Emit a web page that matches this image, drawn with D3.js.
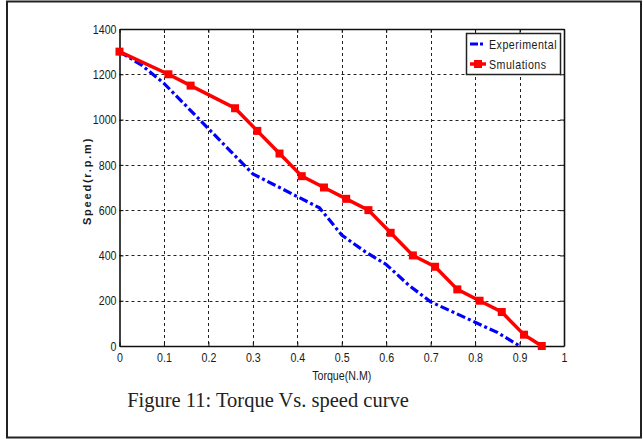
<!DOCTYPE html>
<html>
<head>
<meta charset="utf-8">
<script src="https://cdn.jsdelivr.net/npm/d3@7"></script>
<style>
  body { margin: 0; background: #fff; }
</style>
</head>
<body>
<script>
// values
const torqueSim = [0, 0.11, 0.16, 0.26, 0.31, 0.36, 0.41, 0.46, 0.51, 0.56, 0.61, 0.66, 0.71, 0.76, 0.81, 0.86, 0.91, 0.95];
const speedSim = [1300, 1200, 1150, 1050, 950, 850, 750, 700, 650, 600, 500, 400, 350, 250, 200, 150, 50, 0];
const torqueExp = [0, 0.05, 0.1, 0.15, 0.2, 0.25, 0.3, 0.35, 0.4, 0.45, 0.5, 0.55, 0.6, 0.65, 0.7, 0.75, 0.8, 0.85, 0.9];
const speedExp = [1300, 1240, 1160, 1060, 960, 860, 760, 710, 660, 610, 490, 420, 360, 270, 195, 150, 105, 60, 0];
const xTicks = [0, 0.1, 0.2, 0.3, 0.4, 0.5, 0.6, 0.7, 0.8, 0.9, 1];
const yTicks = [0, 200, 400, 600, 800, 1000, 1200, 1400];
const seriesNames = ["Experimental", "Smulations"];

const W = 643, H = 439;
const pLeft = 119.5, pRight = 564, pTop = 29, pBottom = 346;
const sans = '"Liberation Sans", Arial, sans-serif';
const squeeze = 0.82; // the figure uses a narrow face

const svg = d3.select("body").append("svg")
  .attr("width", W)
  .attr("height", H)
  .style("font-family", sans);

// outer figure frame
svg.append("rect")
  .attr("x", 7).attr("y", 1.5)
  .attr("width", 634).attr("height", 436)
  .attr("fill", "none")
  .attr("stroke", "#222")
  .attr("stroke-width", 2);

const x = d3.scaleLinear().domain([0, 1]).range([pLeft, pRight]);
const y = d3.scaleLinear().domain([0, 1400]).range([pBottom, pTop]);

// dashed grid
const grid = svg.append("g").attr("stroke", "#222").attr("stroke-width", 1).attr("stroke-dasharray", "3,3");
grid.selectAll("line.gx")
  .data(xTicks.slice(1, -1))
  .enter().append("line")
    .attr("x1", d => Math.round(x(d)) + 0.5).attr("x2", d => Math.round(x(d)) + 0.5)
    .attr("y1", pTop).attr("y2", pBottom);
grid.selectAll("line.gy")
  .data(yTicks.slice(1, -1))
  .enter().append("line")
    .attr("y1", d => Math.round(y(d)) + 0.5).attr("y2", d => Math.round(y(d)) + 0.5)
    .attr("x1", pLeft).attr("x2", pRight);

// axes (ticks pointing inward, MATLAB style)
const gx = svg.append("g")
  .attr("transform", `translate(0,${pBottom})`)
  .call(d3.axisBottom(x).tickValues(xTicks).tickFormat(d3.format("")).tickSizeInner(-4).tickSizeOuter(0).tickPadding(7));
const gy = svg.append("g")
  .attr("transform", `translate(${pLeft},0)`)
  .call(d3.axisLeft(y).tickValues(yTicks).tickFormat(d3.format("d")).tickSizeInner(-4).tickSizeOuter(0).tickPadding(3));
svg.append("g")
  .attr("transform", `translate(0,${pTop})`)
  .call(d3.axisTop(x).tickValues(xTicks).tickFormat("").tickSizeInner(-4).tickSizeOuter(0));
svg.append("g")
  .attr("transform", `translate(${pRight},0)`)
  .call(d3.axisRight(y).tickValues(yTicks).tickFormat("").tickSizeInner(-4).tickSizeOuter(0));

svg.selectAll(".domain").attr("stroke", "#111").attr("stroke-width", 1.6);
svg.selectAll(".tick line").attr("stroke", "#111");
svg.selectAll(".tick text")
  .style("font-family", sans).style("font-size", "13px")
  .attr("fill", "#1a1a1a");
gx.selectAll(".tick text").attr("transform", `scale(${squeeze},1)`);
gy.selectAll(".tick text")
  .attr("x", -3 / squeeze)
  .attr("transform", `scale(${squeeze},1)`);

// axis titles
svg.append("text")
  .attr("transform", `translate(${(pLeft + pRight) / 2},380) scale(${squeeze},1)`)
  .attr("text-anchor", "middle")
  .style("font-size", "13px").attr("fill", "#1a1a1a")
  .text("Torque(N.M)");
svg.append("text")
  .attr("transform", `translate(91,181) rotate(-90)`)
  .attr("text-anchor", "middle")
  .style("font-size", "11px").style("font-weight", "bold").attr("fill", "#1a1a1a")
  .attr("letter-spacing", 1.8)
  .text("Speed(r.p.m)");

// series
const line = d3.line().x(d => x(d[0])).y(d => y(d[1]));
const expPts = torqueExp.map((t, i) => [t, speedExp[i]]);
const simPts = torqueSim.map((t, i) => [t, speedSim[i]]);

svg.append("path")
  .datum(expPts)
  .attr("d", line)
  .attr("fill", "none")
  .attr("stroke", "#0000ff")
  .attr("stroke-width", 3.2)
  .attr("stroke-dasharray", "9,3,3,3");

svg.append("path")
  .datum(simPts)
  .attr("d", line)
  .attr("fill", "none")
  .attr("stroke", "#ff0000")
  .attr("stroke-width", 3.5);

const ms = 8;
svg.selectAll("rect.sim")
  .data(simPts)
  .enter().append("rect")
    .attr("x", d => x(d[0]) - ms / 2)
    .attr("y", d => y(d[1]) - ms / 2)
    .attr("width", ms).attr("height", ms)
    .attr("fill", "#ff0000");

// legend
const lg = svg.append("g");
lg.append("rect")
  .attr("x", 466.5).attr("y", 33.5)
  .attr("width", 94).attr("height", 41)
  .attr("fill", "#fff")
  .attr("stroke", "#222").attr("stroke-width", 1.5);
lg.append("line")
  .attr("x1", 470).attr("x2", 486).attr("y1", 44).attr("y2", 44)
  .attr("stroke", "#0000ff").attr("stroke-width", 3.2).attr("stroke-dasharray", "8,2,3,3");
lg.append("line")
  .attr("x1", 470).attr("x2", 486).attr("y1", 64).attr("y2", 64)
  .attr("stroke", "#ff0000").attr("stroke-width", 3.5);
lg.append("rect")
  .attr("x", 474).attr("y", 60).attr("width", ms).attr("height", ms)
  .attr("fill", "#ff0000");
lg.selectAll("text.lg")
  .data(seriesNames)
  .enter().append("text")
    .attr("transform", (d, i) => `translate(489,${49 + i * 20}) scale(${squeeze},1)`)
    .style("font-size", "13px").attr("fill", "#1a1a1a")
    .attr("letter-spacing", 0.6)
    .text(d => d);

// caption
svg.append("text")
  .attr("x", 268).attr("y", 407)
  .attr("text-anchor", "middle")
  .style("font-family", '"Liberation Serif", "Times New Roman", serif')
  .style("font-size", "20.5px").attr("fill", "#222")
  .text("Figure 11: Torque Vs. speed curve");
</script>
</body>
</html>
